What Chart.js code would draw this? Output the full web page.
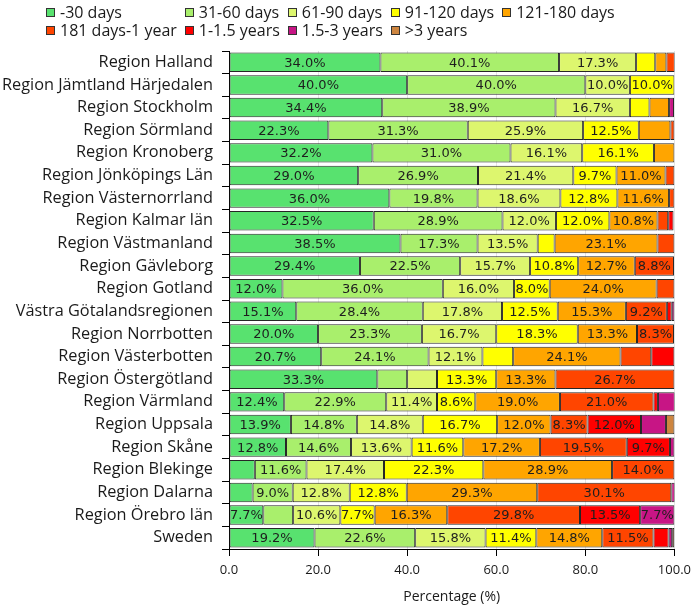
<!DOCTYPE html>
<html>
<head>
<meta charset="utf-8">
<script src="https://cdn.jsdelivr.net/npm/chart.js@4.4.1/dist/chart.umd.min.js"></script>
<style>
  body { margin: 0; background: #fff; }
  #wrap { position: relative; width: 697px; height: 607px; }
  #legend {
    position: absolute; left: 46px; top: 3px;
    display: grid; grid-template-columns: repeat(5, auto); column-gap: 8px;
    font: 16px "Open Sans", sans-serif; line-height: 18px; color: #1a1a1a;
  }
  .item { display: flex; align-items: center; white-space: nowrap; }
  .box { width: 7px; height: 7px; border: 1px solid #333; margin-right: 5px; }
</style>
</head>
<body>
<div id="wrap">
  <canvas id="chart"></canvas>
  <div id="legend"></div>
</div>
<script>
const regions = ['Region Halland', 'Region Jämtland Härjedalen', 'Region Stockholm', 'Region Sörmland',
  'Region Kronoberg', 'Region Jönköpings Län', 'Region Västernorrland', 'Region Kalmar län',
  'Region Västmanland', 'Region Gävleborg', 'Region Gotland', 'Västra Götalandsregionen',
  'Region Norrbotten', 'Region Västerbotten', 'Region Östergötland', 'Region Värmland',
  'Region Uppsala', 'Region Skåne', 'Region Blekinge', 'Region Dalarna', 'Region Örebro län', 'Sweden'];

const groups = ['-30 days', '31-60 days', '61-90 days', '91-120 days', '121-180 days',
  '181 days-1 year', '1-1.5 years', '1.5-3 years', '>3 years'];
const colors = ['#58e26f', '#a9ef6c', '#ddf66e', '#ffff00', '#ffa500', '#ff4500', '#ff0000', '#c71585', '#cd853f'];

// share of cases (%) per waiting time group, same order as regions
const d30  = [34.0, 40.0, 34.4, 22.3, 32.2, 29.0, 36.0, 32.5, 38.5, 29.4, 12.0, 15.1, 20.0, 20.7, 33.3, 12.4, 13.9, 12.8, 5.8, 5.3, 7.7, 19.2];
const d60  = [40.1, 40.0, 38.9, 31.3, 31.0, 26.9, 19.8, 28.9, 17.3, 22.5, 36.0, 28.4, 23.3, 24.1, 6.7, 22.9, 14.8, 14.6, 11.6, 9.0, 6.7, 22.6];
const d90  = [17.3, 10.0, 16.7, 25.9, 16.1, 21.4, 18.6, 12.0, 13.5, 15.7, 16.0, 17.8, 16.7, 12.1, 6.7, 11.4, 14.8, 13.6, 17.4, 12.8, 10.6, 15.8];
const d120 = [4.3, 10.0, 4.4, 12.5, 16.1, 9.7, 12.8, 12.0, 3.8, 10.8, 8.0, 12.5, 18.3, 6.9, 13.3, 8.6, 16.7, 11.6, 22.3, 12.8, 7.7, 11.4];
const d180 = [2.5, 0, 4.4, 7.1, 4.6, 11.0, 11.6, 10.8, 23.1, 12.7, 24.0, 15.3, 13.3, 24.1, 13.3, 19.0, 12.0, 17.2, 28.9, 29.3, 16.3, 14.8];
const y1   = [1.9, 0, 0, 0.9, 0, 2.0, 1.2, 2.4, 3.8, 8.8, 4.0, 9.2, 8.3, 6.9, 26.7, 21.0, 8.3, 19.5, 14.0, 30.1, 29.8, 11.5];
const y15  = [0, 0, 0, 0, 0, 0, 0, 1.2, 0, 0, 0, 1.1, 0, 5.2, 0, 1.0, 12.0, 9.7, 0, 0, 13.5, 3.4];
const y3   = [0, 0, 1.1, 0, 0, 0, 0, 0, 0, 0, 0, 0.6, 0, 0, 0, 3.8, 5.6, 1.0, 0, 0.8, 7.7, 0.8];
const y3p  = [0, 0, 0, 0, 0, 0, 0, 0, 0, 0, 0, 0, 0, 0, 0, 0, 1.9, 0, 0, 0, 0, 0.5];
const series = [d30, d60, d90, d120, d180, y1, y15, y3, y3p];

const xTicks = [0, 20, 40, 60, 80, 100];

// percentage text inside the wider segments
const barLabels = {
  id: 'barLabels',
  afterDatasetsDraw(chart) {
    const ctx = chart.ctx;
    ctx.save();
    ctx.font = '13px "DejaVu Sans"';
    ctx.fillStyle = '#1e1e1e';
    ctx.textAlign = 'center';
    ctx.textBaseline = 'middle';
    chart.data.datasets.forEach((ds, i) => {
      chart.getDatasetMeta(i).data.forEach((bar, j) => {
        const v = ds.data[j];
        if (v < 7.5) return;
        ctx.fillText(v.toFixed(1) + '%', (bar.x + bar.base) / 2, bar.y + 1);
      });
    });
    ctx.restore();
  }
};

const chart = new Chart(document.getElementById('chart'), {
  type: 'bar',
  data: {
    labels: regions,
    datasets: groups.map((g, i) => ({
      label: g,
      data: series[i],
      backgroundColor: colors[i],
      borderColor: '#262626',
      borderWidth: 1,
      borderSkipped: false,
      barPercentage: 0.86,
      categoryPercentage: 1
    }))
  },
  options: {
    indexAxis: 'y',
    responsive: true,
    maintainAspectRatio: false,
    animation: false,
    layout: { padding: { top: 51, right: 18, bottom: 0, left: 0 } },
    plugins: { legend: { display: false }, tooltip: { enabled: false } },
    scales: {
      x: {
        stacked: true,
        min: 0,
        max: 100,
        afterBuildTicks: s => { s.ticks = xTicks.map(v => ({ value: v })); },
        afterFit: s => { s.height = 58; },
        border: { color: '#000', width: 1 },
        grid: { color: '#e3e3e3', tickColor: '#000', tickLength: 7 },
        ticks: {
          color: '#1a1a1a', padding: 6,
          font: { family: 'Open Sans', size: 13 },
          callback: v => v.toFixed(1)
        },
        title: {
          display: true, text: 'Percentage (%)', color: '#1a1a1a',
          font: { family: 'Open Sans', size: 14 }, padding: { top: 0, bottom: 2 }
        }
      },
      y: {
        stacked: true,
        afterFit: s => { s.width = 229; },
        border: { color: '#000', width: 1 },
        grid: { drawOnChartArea: false, tickColor: '#000', tickLength: 7 },
        ticks: { color: '#1a1a1a', padding: 9, font: { family: 'Open Sans', size: 16.3 } }
      }
    }
  },
  plugins: [barLabels]
});

// legend laid out in columns, like the original
document.getElementById('legend').innerHTML = chart.data.datasets.map(ds =>
  `<div class="item"><span class="box" style="background:${ds.backgroundColor}"></span>${ds.label}</div>`
).join('');
</script>
</body>
</html>
